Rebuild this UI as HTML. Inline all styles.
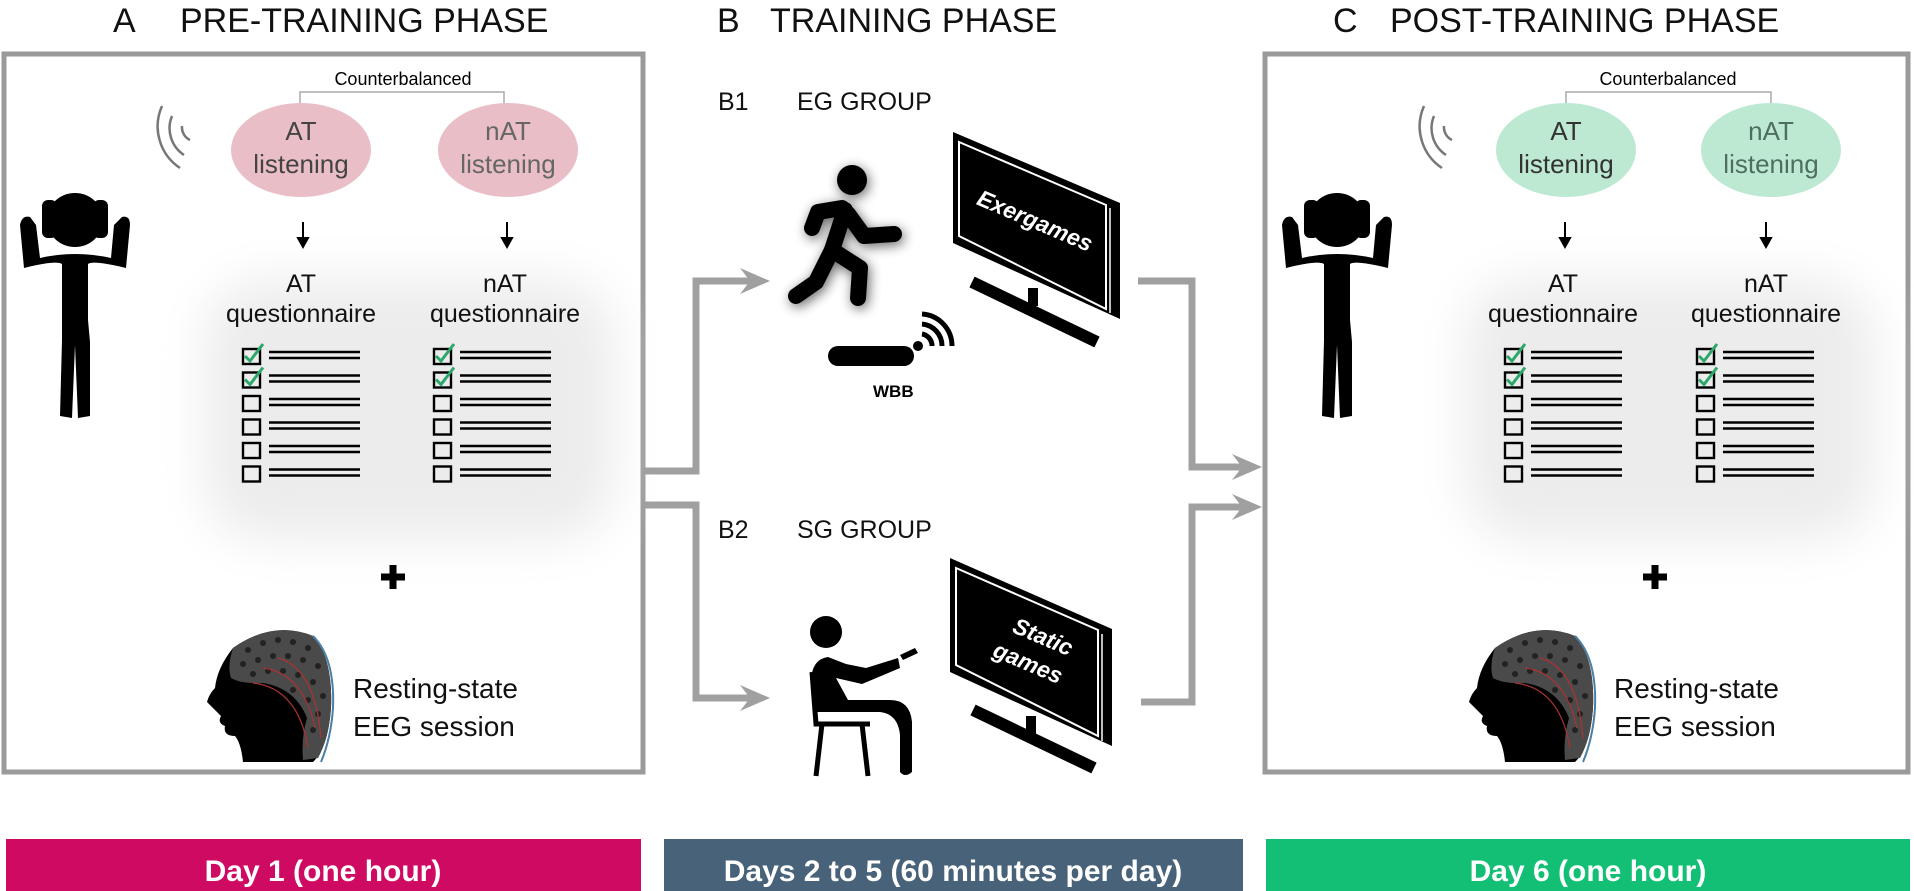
<!DOCTYPE html>
<html><head><meta charset="utf-8"><style>
html,body{margin:0;padding:0;background:#fff}
svg{display:block}
text{font-family:"Liberation Sans",sans-serif}
</style></head><body>
<svg width="1914" height="891" viewBox="0 0 1914 891" xmlns="http://www.w3.org/2000/svg">
<defs>
<filter id="blur" x="-30%" y="-30%" width="160%" height="160%"><feGaussianBlur stdDeviation="24"/></filter>
<filter id="sh" x="-50%" y="-50%" width="200%" height="200%"><feGaussianBlur in="SourceAlpha" stdDeviation="6"/><feOffset dx="2" dy="3"/><feComponentTransfer><feFuncA type="linear" slope="0.6"/></feComponentTransfer><feMerge><feMergeNode/><feMergeNode in="SourceGraphic"/></feMerge></filter>
<g id="cl">
 <g fill="none" stroke="#000" stroke-width="2.4">
  <rect x="0" y="0" width="17" height="15"/><rect x="0" y="23.5" width="17" height="15"/><rect x="0" y="47" width="17" height="15"/><rect x="0" y="70.5" width="17" height="15"/><rect x="0" y="94" width="17" height="15"/><rect x="0" y="117.5" width="17" height="15"/>
  <path d="M26 3H117M26 9H117M26 26.5H117M26 32.5H117M26 50H117M26 56H117M26 73.5H117M26 79.5H117M26 97H117M26 103H117M26 120.5H117M26 126.5H117"/>
 </g>
 <path d="M2 7L7 12L20 -5M2 30.5L7 35.5L20 18.5" fill="none" stroke="#2ea86a" stroke-width="3"/>
</g>
<g id="hp">
 <path d="M26 38 Q57 -4 88 38" fill="none" stroke="#000" stroke-width="4"/>
 <ellipse cx="57" cy="40" rx="28" ry="27"/>
 <rect x="24" y="20" width="15" height="38" rx="6"/>
 <rect x="75" y="20" width="15" height="38" rx="6"/>
 <path d="M6 88 L2 45 Q4 35 12 37 L18 45 L22 78 Q57 70 93 78 L96 45 L104 37 Q112 35 112 45 L108 88 Q75 80 70 84 L70 140 L72 162 L72 236 L60 238 L57 165 L54 238 L42 236 L44 160 L44 84 Q38 80 6 88Z"/>
</g>
<g id="eeg">
 <path d="M30 20 Q70 -8 110 8 Q130 30 128 80 Q125 120 110 134 L40 134 Q38 115 32 108 Q20 108 22 98 Q14 95 18 88 Q10 80 4 74 Q6 66 12 60 Q14 40 30 20Z"/>
 <path d="M30 20 Q70 -8 110 8 Q130 30 128 80 Q126 110 115 130 L100 132 Q98 110 104 90 Q92 60 60 55 Q38 56 28 50 Q24 38 30 20Z" fill="#4a4a4a"/>
 <g fill="#222">
  <circle cx="45" cy="22" r="3"/><circle cx="60" cy="15" r="3"/><circle cx="75" cy="12" r="3"/><circle cx="90" cy="14" r="3"/><circle cx="105" cy="20" r="3"/>
  <circle cx="40" cy="36" r="3"/><circle cx="55" cy="32" r="3"/><circle cx="70" cy="28" r="3"/><circle cx="85" cy="28" r="3"/><circle cx="100" cy="32" r="3"/><circle cx="115" cy="38" r="3"/>
  <circle cx="50" cy="46" r="3"/><circle cx="65" cy="43" r="3"/><circle cx="80" cy="43" r="3"/><circle cx="95" cy="47" r="3"/><circle cx="110" cy="54" r="3"/><circle cx="120" cy="68" r="3"/>
  <circle cx="90" cy="62" r="3"/><circle cx="105" cy="72" r="3"/><circle cx="115" cy="86" r="3"/><circle cx="110" cy="102" r="3"/>
 </g>
 <path d="M60 40 Q100 45 112 100 M75 30 Q112 40 118 110 M50 55 Q95 60 105 120" fill="none" stroke="#a33" stroke-width="1.2"/>
 <path d="M110 8 Q132 30 130 80 Q128 110 118 134" fill="none" stroke="#4a7fa8" stroke-width="2"/>
</g>
<g id="arr"><polygon points="0,0 -30,-13 -20,0 -30,13"/></g>
</defs>

<rect width="1914" height="891" fill="#fff"/>

<g font-size="34" fill="#111">
 <text x="113" y="32">A</text><text x="180" y="32">PRE-TRAINING PHASE</text>
 <text x="717" y="32">B</text><text x="770" y="32">TRAINING PHASE</text>
 <text x="1333" y="32">C</text><text x="1390" y="32">POST-TRAINING PHASE</text>
</g>

<rect x="4" y="54" width="639" height="718" fill="none" stroke="#9a9a9a" stroke-width="5"/>
<rect x="1265" y="54" width="643" height="718" fill="none" stroke="#9a9a9a" stroke-width="5"/>

<rect x="205" y="280" width="410" height="260" rx="60" fill="#ececec" filter="url(#blur)"/>
<rect x="1465" y="280" width="410" height="260" rx="60" fill="#ececec" filter="url(#blur)"/>

<g>
 <text x="403" y="85" font-size="18" text-anchor="middle">Counterbalanced</text>
 <path d="M300 106V92H504V106" fill="none" stroke="#aaa" stroke-width="1.5"/>
 <ellipse cx="301" cy="150" rx="70" ry="47" fill="#e9bec6"/>
 <ellipse cx="508" cy="150" rx="70" ry="47" fill="#e9bec6"/>
 <g font-size="26" text-anchor="middle" fill="#444"><text x="301" y="140">AT</text><text x="301" y="173">listening</text><text x="508" y="140" fill="#666">nAT</text><text x="508" y="173" fill="#666">listening</text></g>
 <g fill="none" stroke="#777" stroke-width="2.5"><path d="M162 106 A50 50 0 0 0 180 168"/><path d="M172 116 A32 32 0 0 0 184 155"/><path d="M182 126 A14 14 0 0 0 190 140"/></g>
 <g stroke="#000" stroke-width="2" fill="#000"><path d="M303 222V244M507 222V244" /><path d="M298 238L303 247L308 238Z M502 238L507 247L512 238Z"/></g>
 <g font-size="25" text-anchor="middle" fill="#111"><text x="301" y="292">AT</text><text x="301" y="322">questionnaire</text><text x="505" y="292">nAT</text><text x="505" y="322">questionnaire</text></g>
 <use href="#cl" x="243" y="349"/><use href="#cl" x="434" y="349"/>
 <path d="M393 565V589M381 577H405" stroke="#000" stroke-width="7"/>
 <use href="#eeg" x="203" y="628"/>
 <g font-size="28" fill="#111"><text x="353" y="698">Resting-state</text><text x="353" y="736">EEG session</text></g>
 <use href="#hp" x="18" y="180"/>
</g>

<g>
 <text x="1668" y="85" font-size="18" text-anchor="middle">Counterbalanced</text>
 <path d="M1566 106V92H1771V106" fill="none" stroke="#aaa" stroke-width="1.5"/>
 <ellipse cx="1566" cy="150" rx="70" ry="47" fill="#bde9d3"/>
 <ellipse cx="1771" cy="150" rx="70" ry="47" fill="#bde9d3"/>
 <g font-size="26" text-anchor="middle" fill="#333"><text x="1566" y="140">AT</text><text x="1566" y="173">listening</text><text x="1771" y="140" fill="#4e6e5e">nAT</text><text x="1771" y="173" fill="#4e6e5e">listening</text></g>
 <g fill="none" stroke="#777" stroke-width="2.5"><path d="M1424 106 A50 50 0 0 0 1442 168"/><path d="M1434 116 A32 32 0 0 0 1446 155"/><path d="M1444 126 A14 14 0 0 0 1452 140"/></g>
 <g stroke="#000" stroke-width="2" fill="#000"><path d="M1565 222V244M1766 222V244"/><path d="M1560 238L1565 247L1570 238Z M1761 238L1766 247L1771 238Z"/></g>
 <g font-size="25" text-anchor="middle" fill="#111"><text x="1563" y="292">AT</text><text x="1563" y="322">questionnaire</text><text x="1766" y="292">nAT</text><text x="1766" y="322">questionnaire</text></g>
 <use href="#cl" x="1505" y="349"/><use href="#cl" x="1697" y="349"/>
 <path d="M1655 565V589M1643 577H1667" stroke="#000" stroke-width="7"/>
 <use href="#eeg" x="1465" y="628"/>
 <g font-size="28" fill="#111"><text x="1614" y="698">Resting-state</text><text x="1614" y="736">EEG session</text></g>
 <use href="#hp" x="1280" y="180"/>
</g>

<g font-size="25" fill="#111"><text x="718" y="110">B1</text><text x="797" y="110">EG GROUP</text><text x="718" y="538">B2</text><text x="797" y="538">SG GROUP</text></g>

<g fill="none" stroke="#a0a0a0" stroke-width="7">
 <path d="M643 471H696V281H755"/>
 <path d="M643 505H696V698H755"/>
 <path d="M1138 281H1192V467H1245"/>
 <path d="M1141 702H1192V507H1245"/>
</g>
<g fill="#a0a0a0">
 <use href="#arr" x="770" y="281"/><use href="#arr" x="770" y="698"/>
 <use href="#arr" x="1262" y="467"/><use href="#arr" x="1262" y="507"/>
</g>

<g filter="url(#sh)">
 <circle cx="852" cy="180" r="15"/>
 <g fill="none" stroke="#000" stroke-width="16" stroke-linecap="round" stroke-linejoin="round">
  <path d="M845 210L832 250"/>
  <path d="M842 208L818 212L812 228"/>
  <path d="M848 214L864 236L894 234"/>
  <path d="M832 250L860 268L858 298"/>
  <path d="M832 250L816 282L796 296"/>
 </g>
</g>
<rect x="828" y="346" width="86" height="20" rx="10"/>
<circle cx="918" cy="346" r="5"/>
<g fill="none" stroke="#000" stroke-width="5"><path d="M922 334A12 12 0 0 1 932 346"/><path d="M922 324A22 22 0 0 1 942 346"/><path d="M922 314A32 32 0 0 1 952 346"/></g>
<text x="873" y="397" font-size="17" font-weight="bold">WBB</text>

<g>
 <polygon points="953,132 1120,203 1120,319 953,243" fill="#000"/>
 <polygon points="959,142 1106,205 1106,309 959,236" fill="none" stroke="#fff" stroke-width="2"/>
 <path d="M1110 208V313" stroke="#fff" stroke-width="1.5"/>
 <path d="M972 282L1097 342" stroke="#000" stroke-width="12"/>
 <rect x="1028" y="288" width="10" height="18"/>
 <text x="0" y="0" font-size="23" font-weight="bold" font-style="italic" fill="#fff" transform="translate(1032,228) rotate(23)" text-anchor="middle">Exergames</text>
</g>
<g>
 <polygon points="950,558 1112,629 1112,746 950,672" fill="#000"/>
 <polygon points="956,568 1098,630 1098,736 956,665" fill="none" stroke="#fff" stroke-width="2"/>
 <path d="M1102 634V741" stroke="#fff" stroke-width="1.5"/>
 <path d="M973 710L1094 768" stroke="#000" stroke-width="12"/>
 <rect x="1026" y="716" width="10" height="18"/>
 <g font-size="23" font-weight="bold" font-style="italic" fill="#fff" text-anchor="middle"><text transform="translate(1040,644) rotate(23)">Static</text><text transform="translate(1025,670) rotate(23)">games</text></g>
</g>

<g>
 <circle cx="826" cy="632" r="16"/>
 <path d="M828 657Q808 660 812 690L816 712L840 712L880 712Q898 714 900 735L900 772Q905 778 912 772L912 722Q910 700 890 700L848 700L836 678L862 684L900 668L898 658L866 668L846 664Z"/>
 <path d="M900 655L915 648L918 653L903 660Z"/>
 <g stroke="#000" stroke-width="5" fill="none"><path d="M812 672L816 724H870"/><path d="M822 724L816 776M862 724L868 776"/></g>
</g>

<rect x="6" y="839" width="635" height="52" fill="#cf0a62"/>
<rect x="664" y="839" width="579" height="52" fill="#476279"/>
<rect x="1266" y="839" width="644" height="52" fill="#12bf75"/>
<g font-size="30" font-weight="bold" fill="#fff" text-anchor="middle">
 <text x="323" y="881">Day 1 (one hour)</text>
 <text x="953" y="881">Days 2 to 5 (60 minutes per day)</text>
 <text x="1588" y="881">Day 6 (one hour)</text>
</g>
</svg>
</body></html>
